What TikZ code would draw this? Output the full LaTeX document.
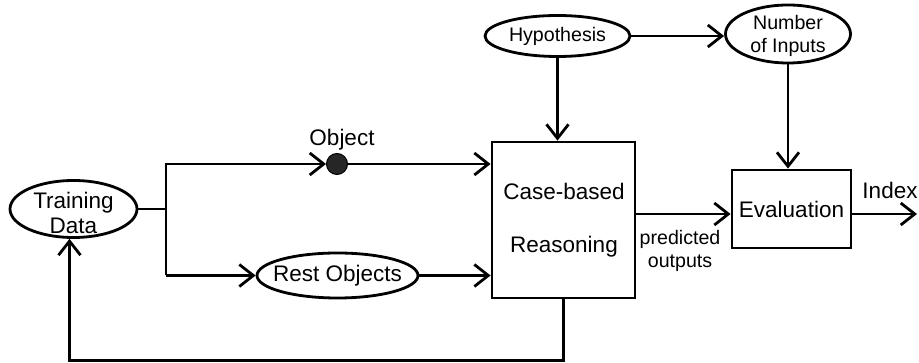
\documentclass[tikz,border=0pt]{standalone}
\usepackage{fontspec}
\setmainfont{Liberation Sans}
\usetikzlibrary{shapes.geometric,arrows.meta}
\begin{document}
\begin{tikzpicture}[x=1pt,y=-1pt, line width=2.8pt,
  big/.style={font=\fontsize{22.5}{25}\selectfont},
  small/.style={font=\fontsize{19.6}{22.5}\selectfont},
  oval/.style={draw, ellipse, inner sep=0pt},
  box/.style={draw, rectangle, inner sep=0pt},
  arr/.style={-{Straight Barb[length=14pt,width=22pt]}}]
\useasboundingbox (0,0) rectangle (919,363);
% ellipses
\node[oval, minimum width=127pt, minimum height=57pt] (td) at (73.5,209) {};
\node[big, align=center] (tdt) at (73.5,213) {Training\\Data};
\node[oval, minimum width=161pt, minimum height=45pt] (ro) at (337.5,275.5) {};
\node[big] (rot) at (337.5,275.5) {Rest Objects};
\node[oval, minimum width=145pt, minimum height=41pt] (hyp) at (557.5,36) {};
\node[small] (hypt) at (557.5,36) {Hypothesis};
\node[oval, minimum width=125pt, minimum height=58pt] (ni) at (788,34) {};
\node[small, align=center] (nit) at (788,36) {Number\\of Inputs};
% object dot
\node[circle, draw, fill=black!85, line width=1pt, minimum size=21pt, inner sep=0pt] (obj) at (337,164) {};
\node[big] (objt) at (342,140) {Object};
% boxes
\node[box, minimum width=143pt, minimum height=156pt] (cbr) at (563.5,220) {};
\node[big] (cbr1) at (564,191) {Case-based};
\node[big] (cbr2) at (564,247) {Reasoning};
\node[box, big, minimum width=119pt, minimum height=78pt] (ev) at (791.5,209) {Evaluation};
\node[small, align=center] (pred) at (680,251) {predicted\\outputs};
\node[big] (idxt) at (890,190) {Index};
% coordinates
\coordinate (jt) at (166,164);
\coordinate (jb) at (166,275.5);
\coordinate (m) at (0,214);
\coordinate (idx) at (917,214);
% connectors
\draw (td.east) -- (td.east -| jt);
\draw[arr] (jb) -- (jt) -- (obj.west);
\draw[arr] (jb) -- (ro.west);
\draw[arr] (obj.east) -- (obj.east -| cbr.west);
\draw[arr] (ro.east) -- (ro.east -| cbr.west);
\draw[arr] (hyp.south) -- (hyp.south |- cbr.north);
\draw[arr] (hyp.east) -- (hyp.east -| ni.west);
\draw[arr] (ni.south) -- (ni.south |- ev.north);
\draw[arr] (cbr.east |- m) -- (ev.west |- m);
\draw[arr] (ev.east |- m) -- (idx);
\draw[arr] (cbr.south) -- ++(0,61) -| ([xshift=-4pt]td.south);
\end{tikzpicture}
\end{document}
